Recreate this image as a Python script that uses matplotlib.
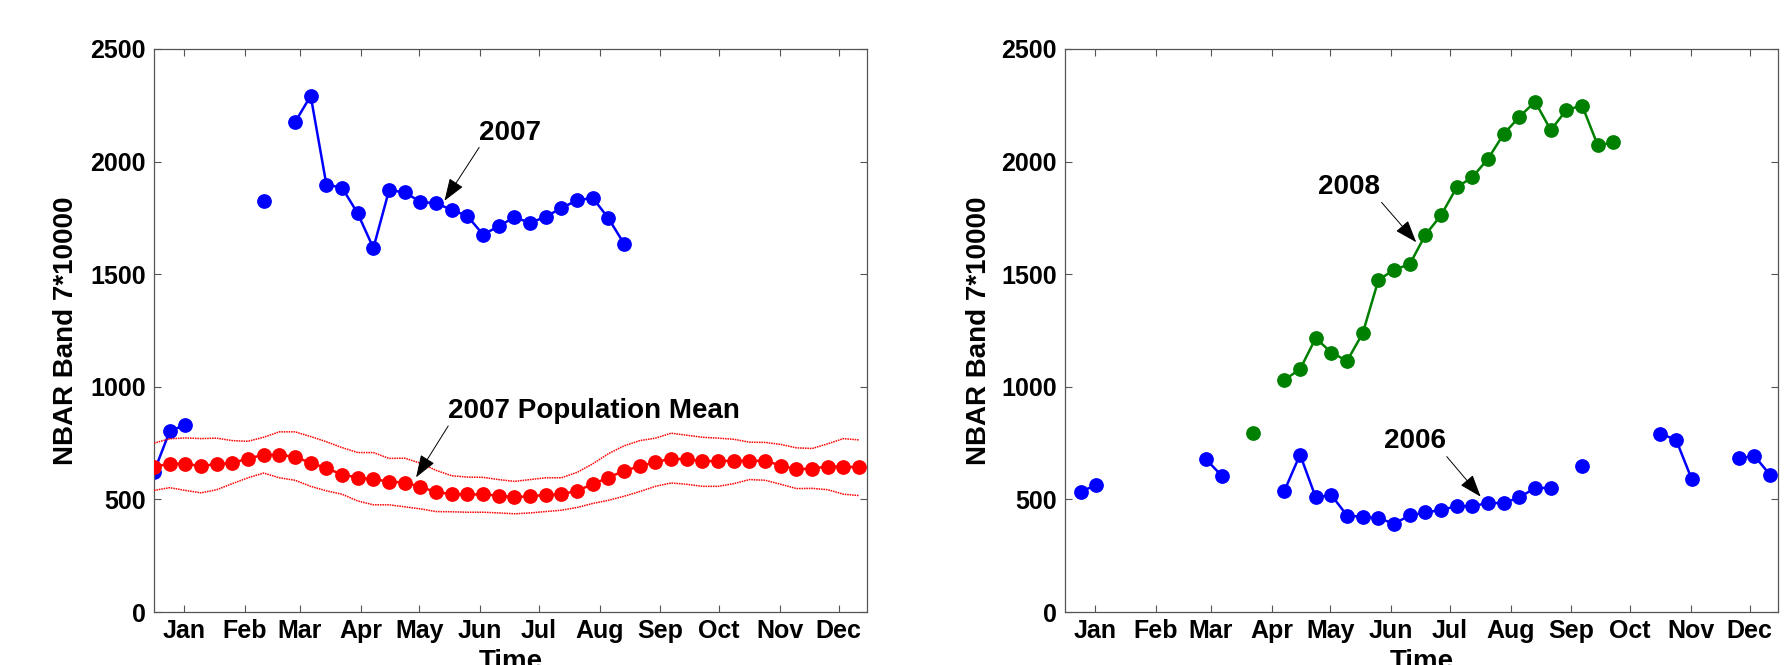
import numpy as np
import matplotlib
matplotlib.use("Agg")
import matplotlib.pyplot as plt

plt.rcParams['font.family'] = ['Liberation Sans', 'DejaVu Sans']
plt.rcParams['font.weight'] = 'bold'

nan = np.nan
# 8-day composite positions (days from start of year)
composite_days = np.arange(46) * 8

month_labels = ['Jan', 'Feb', 'Mar', 'Apr', 'May', 'Jun', 'Jul', 'Aug', 'Sep', 'Oct', 'Nov', 'Dec']
month_tick_days = [15.5, 46.5, 74.5, 105.5, 135.5, 166.5, 196.5, 227.5, 258.5, 288.5, 319.5, 349.5]
y_ticks = [0, 500, 1000, 1500, 2000, 2500]

# Left panel: 2007 pixel and population mean (+/- band)
mean_2007 = [645, 658, 658, 648, 657, 662, 681, 698, 698, 689, 662, 639, 610, 597, 590, 579,
             575, 556, 532, 524, 522, 522, 517, 510, 514, 520, 523, 538, 568, 597, 627, 647,
             665, 681, 678, 670, 670, 672, 671, 672, 650, 634, 637, 646, 646, 642]
upper_2007 = [750, 769, 773, 770, 772, 761, 758, 776, 800, 800, 779, 756, 730, 708, 708, 682,
              683, 661, 629, 605, 599, 598, 588, 580, 588, 596, 596, 620, 658, 703, 738, 761,
              772, 794, 785, 776, 772, 767, 754, 753, 744, 729, 726, 747, 770, 764]
lower_2007 = [540, 552, 540, 529, 543, 570, 596, 617, 596, 585, 558, 538, 523, 493, 476, 476,
              467, 458, 446, 445, 443, 443, 440, 436, 440, 446, 452, 464, 482, 496, 514, 535,
              558, 573, 567, 558, 558, 570, 588, 585, 567, 548, 549, 543, 523, 517]
pixel_2007 = [622, 802, 832, nan, nan, nan, nan, 1827, nan, 2175, 2292, 1898, 1884, 1770, 1616, 1873,
              1864, 1821, 1815, 1786, 1758, 1676, 1713, 1753, 1728, 1755, 1794, 1828, 1839, 1748,
              1635, nan, nan, nan, nan, nan, nan, nan, nan, nan, nan, nan, nan, nan, nan, nan]

# Right panel: 2006 and 2008 pixel series
pixel_2006 = [nan, 535, 563, nan, nan, nan, nan, nan, nan, 678, 605, nan, nan, nan, 538, 699,
              509, 519, 428, 423, 417, 392, 429, 442, 453, 470, 470, 484, 484, 509, 551, 551,
              nan, 650, nan, nan, nan, nan, 792, 764, 589, nan, nan, 682, 693, 608]
pixel_2008 = [nan, nan, nan, nan, nan, nan, nan, nan, nan, nan, nan, nan, 796, nan, 1031, 1078,
              1216, 1152, 1115, 1238, 1474, 1520, 1544, 1675, 1762, 1886, 1931, 2013, 2123, 2199,
              2266, 2140, 2229, 2249, 2072, 2086, nan, nan, nan, nan, nan, nan, nan, nan, nan, nan]

BLUE = '#0000ff'
RED = '#ff0000'
GREEN = '#008000'
SPINE = '#555555'

fig = plt.figure(figsize=(17.87, 6.65), dpi=100)
ax1 = fig.add_axes([154 / 1787, 53 / 665, 713 / 1787, 563 / 665])
ax2 = fig.add_axes([1065 / 1787, 53 / 665, 713 / 1787, 563 / 665])

ms = 9.6

def style(ax, ylabel_x):
    ax.set_xlim(0, 364)
    ax.set_ylim(0, 2500)
    ax.set_xticks(month_tick_days)
    ax.set_xticklabels(month_labels)
    ax.set_yticks(y_ticks)
    ax.tick_params(direction='in', top=True, right=True, length=5, width=0.8,
                   color=SPINE, labelsize=18, pad=6)
    ax.tick_params(axis='x', pad=5)
    for lab in ax.get_xticklabels() + ax.get_yticklabels():
        lab.set_fontweight('bold')
    for sp in ax.spines.values():
        sp.set_color(SPINE)
        sp.set_linewidth(0.9)
    ax.set_ylabel('NBAR Band 7*10000', fontsize=20, fontweight='bold', va='center')
    ax.yaxis.set_label_coords(ylabel_x, 0.5)
    ax.set_xlabel('Time', fontsize=20, fontweight='bold', va='top')
    ax.xaxis.set_label_coords(0.5, -0.066)

arrow_kw = dict(arrowstyle='-|>,head_length=0.7,head_width=0.25', color='black',
                lw=0.7, mutation_scale=20, shrinkA=0, shrinkB=0)

# ---- left panel
x = composite_days
ax1.plot(x, pixel_2007, '-o', color=BLUE, lw=1.8, ms=ms, mfc=BLUE, mec=BLUE, zorder=2)
ax1.plot(x, upper_2007, linestyle=(0, (1, 0.6)), color=RED, lw=1.1, zorder=3)
ax1.plot(x, lower_2007, linestyle=(0, (1, 0.6)), color=RED, lw=1.1, zorder=3)
ax1.plot(x, mean_2007, '-o', color=RED, lw=1.8, ms=ms, mfc=RED, mec=RED, zorder=4)
style(ax1, -0.123)

ax1.annotate('', xy=(148.3, 1826), xytext=(166, 2063), arrowprops=arrow_kw, zorder=6)
ax1.text(166, 2096, '2007', fontsize=20, fontweight='bold', ha='left', va='baseline', zorder=6)
ax1.annotate('', xy=(133.8, 598), xytext=(150.2, 826), arrowprops=arrow_kw, zorder=6)
ax1.text(150.2, 860, '2007 Population Mean', fontsize=20, fontweight='bold', ha='left',
         va='baseline', zorder=6)

# ---- right panel
ax2.plot(x, pixel_2006, '-o', color=BLUE, lw=1.8, ms=ms, mfc=BLUE, mec=BLUE, zorder=3)
ax2.plot(x, pixel_2008, '-o', color=GREEN, lw=1.8, ms=ms, mfc=GREEN, mec=GREEN, zorder=3)
style(ax2, -0.1205)

ax2.annotate('', xy=(179.3, 1642), xytext=(161.6, 1819), arrowprops=arrow_kw, zorder=6)
ax2.text(129.4, 1856, '2008', fontsize=20, fontweight='bold', ha='left', va='baseline', zorder=6)
ax2.annotate('', xy=(212.2, 512), xytext=(194.9, 690), arrowprops=arrow_kw, zorder=6)
ax2.text(163.0, 727, '2006', fontsize=20, fontweight='bold', ha='left', va='baseline', zorder=6)

fig.savefig('out.png', dpi=100)
